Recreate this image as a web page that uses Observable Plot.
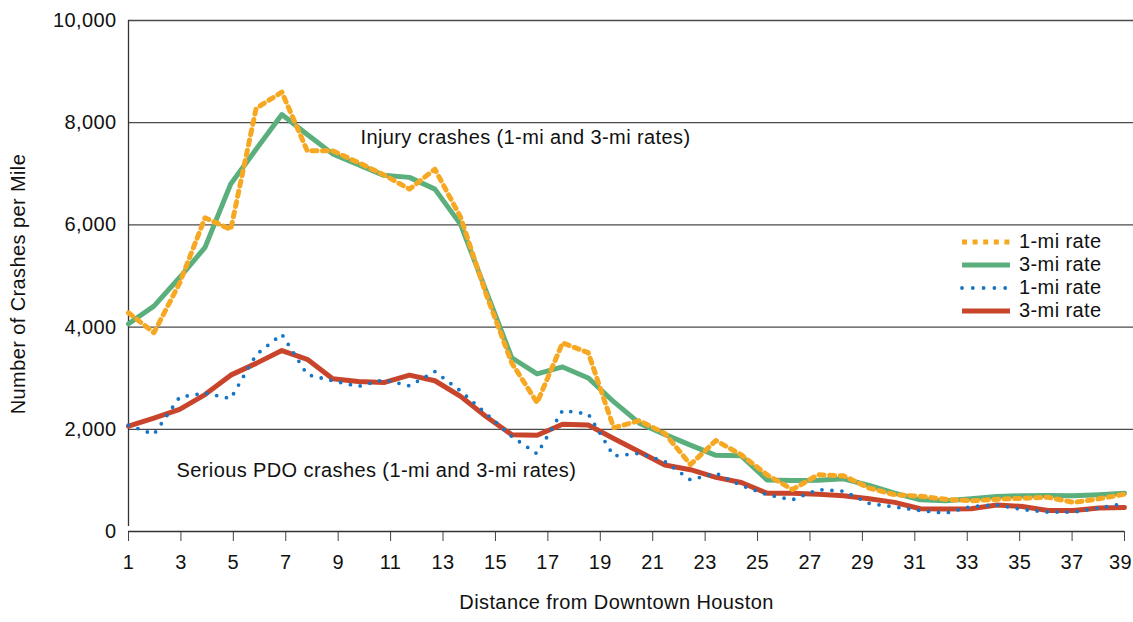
<!DOCTYPE html>
<html>
<head>
<meta charset="utf-8">
<script src="https://cdn.jsdelivr.net/npm/d3@7"></script>
<script src="https://cdn.jsdelivr.net/npm/@observablehq/plot@0.6"></script>
<style>
  html, body { margin: 0; padding: 0; background: #fff; }
  #chart { position: relative; width: 1133px; height: 622px; font-family: "Liberation Sans", Arial, Helvetica, sans-serif; }
  #chart svg text { letter-spacing: 0.4px; }
  #legend { position: absolute; left: 960px; top: 230px; font-size: 20px; letter-spacing: 0.4px; color: #111; }
  #legend .row { display: flex; align-items: center; height: 23px; }
  #legend svg { display: block; margin-right: 7px; }
</style>
</head>
<body>
<div id="chart"></div>
<script>
// Distance positions of the 40 plotted points (axis labelled 1..39)
const distance = [1, 1.97, 2.95, 3.92, 4.9, 5.87, 6.85, 7.82, 8.79, 9.77, 10.74, 11.72, 12.69, 13.67, 14.64, 15.62, 16.59, 17.56, 18.54, 19.51, 20.49, 21.46, 22.44, 23.41, 24.38, 25.36, 26.33, 27.31, 28.28, 29.26, 30.23, 31.21, 32.18, 33.15, 34.13, 35.1, 36.08, 37.05, 38.03, 39];

// Injury crashes per mile
const injury1mi = [4280, 3890, 4860, 6140, 5910, 8280, 8600, 7450, 7450, 7220, 6980, 6700, 7090, 6150, 4650, 3300, 2520, 3690, 3500, 2030, 2170, 1920, 1310, 1780, 1500, 1110, 820, 1110, 1090, 850, 720, 690, 630, 600, 630, 650, 670, 570, 640, 730];
const injury3mi = [4065, 4410, 4970, 5560, 6800, 7480, 8160, 7770, 7390, 7180, 6970, 6930, 6700, 6010, 4710, 3400, 3085, 3220, 3005, 2540, 2120, 1900, 1690, 1490, 1480, 1010, 1000, 1005, 1030, 900, 750, 620, 600, 640, 685, 700, 705, 700, 720, 750];

// Serious PDO crashes per mile
const pdo1mi = [2080, 1900, 2630, 2710, 2600, 3460, 3860, 3070, 2950, 2840, 2970, 2850, 3130, 2750, 2310, 1860, 1520, 2370, 2300, 1480, 1530, 1370, 1010, 1140, 900, 720, 620, 820, 790, 550, 480, 410, 360, 490, 520, 430, 380, 380, 460, 550];
const pdo3mi = [2060, 2220, 2390, 2680, 3060, 3290, 3540, 3370, 2990, 2935, 2915, 3060, 2950, 2645, 2250, 1895, 1885, 2100, 2085, 1820, 1560, 1300, 1210, 1060, 960, 750, 750, 730, 700, 640, 570, 445, 440, 445, 520, 490, 410, 410, 460, 470];

const xTicks = [1, 3, 5, 7, 9, 11, 13, 15, 17, 19, 21, 23, 25, 27, 29, 31, 33, 35, 37, 39];
const yTicks = [0, 2000, 4000, 6000, 8000, 10000];
const gridValues = [2000, 4000, 6000, 8000, 10000];

const legendItems = [
  {label: "1-mi rate", color: "#F7A823", dash: "5,5.6", width: 5, cap: "butt"},
  {label: "3-mi rate", color: "#5BAF7D", dash: null, width: 5, cap: "butt"},
  {label: "1-mi rate", color: "#1675C5", dash: "0,10.8", width: 3.8, cap: "round"},
  {label: "3-mi rate", color: "#C8452C", dash: null, width: 5, cap: "butt"}
];

const FONT = "'Liberation Sans', Arial, Helvetica, sans-serif";
const FS = 20;
const X = (d, i) => distance[i];
const Y = d => d;
const lastTick = xTicks[xTicks.length - 1];

const chart = Plot.plot({
  width: 1133,
  height: 622,
  marginLeft: 128,
  marginRight: 9,
  marginTop: 20,
  marginBottom: 91,
  x: {domain: [1, 39]},
  y: {domain: [0, 10000]},
  style: {fontFamily: FONT, fontSize: FS + "px", color: "#111", background: "#fff", overflow: "visible"},
  marks: [
    Plot.ruleY(gridValues, {stroke: "#4a4a4a", strokeWidth: 1.3, insetRight: -9}),
    Plot.axisY({ticks: yTicks, tickSize: 0, tickPadding: 12, tickFormat: d3.format(","), label: null}),
    Plot.axisX({ticks: xTicks, tickSize: 10, tickPadding: 13, tickFormat: d => d === lastTick ? "" : String(d), label: null, stroke: "#444"}),
    Plot.axisX({ticks: [lastTick], tickSize: 0, tickPadding: 23, dx: -4, tickFormat: d => String(d), label: null}),
    Plot.ruleY([0], {stroke: "#333", strokeWidth: 1.3}),
    Plot.ruleX([1], {y1: 0, y2: 10000, insetTop: -5, stroke: "#333", strokeWidth: 1.3}),
    Plot.line(injury3mi, {x: X, y: Y, stroke: "#5BAF7D", strokeWidth: 5}),
    Plot.line(pdo3mi, {x: X, y: Y, stroke: "#C8452C", strokeWidth: 5}),
    Plot.line(injury1mi, {x: X, y: Y, stroke: "#F7A823", strokeWidth: 5, strokeDasharray: "5,5.5"}),
    Plot.line(pdo1mi, {x: X, y: Y, stroke: "#1675C5", strokeWidth: 3.8, strokeDasharray: "0,10", strokeLinecap: "round"}),
    Plot.text(["Injury crashes (1-mi and 3-mi rates)"], {x: 9.85, y: 7716, text: d => d, textAnchor: "start", fontSize: FS, fill: "#111"}),
    Plot.text(["Serious PDO crashes (1-mi and 3-mi rates)"], {x: 2.83, y: 1195, text: d => d, textAnchor: "start", fontSize: FS, fill: "#111"}),
    Plot.text(["Distance from Downtown Houston"], {frameAnchor: "bottom", dy: 77, dx: -10, text: d => d, textAnchor: "middle", fontSize: FS, fill: "#111"}),
    Plot.text(["Number of Crashes per Mile"], {frameAnchor: "left", rotate: -90, dx: -110, dy: 8, text: d => d, textAnchor: "middle", fontSize: FS, fill: "#111"})
  ]
});

const container = document.getElementById("chart");
container.appendChild(chart);

const legend = document.createElement("div");
legend.id = "legend";
for (const item of legendItems) {
  const row = document.createElement("div");
  row.className = "row";
  const ns = "http://www.w3.org/2000/svg";
  const s = document.createElementNS(ns, "svg");
  s.setAttribute("width", "52");
  s.setAttribute("height", "10");
  const ln = document.createElementNS(ns, "line");
  ln.setAttribute("x1", "2");
  ln.setAttribute("x2", "50");
  ln.setAttribute("y1", "5");
  ln.setAttribute("y2", "5");
  ln.setAttribute("stroke", item.color);
  ln.setAttribute("stroke-width", item.width);
  ln.setAttribute("stroke-linecap", item.cap);
  if (item.dash) ln.setAttribute("stroke-dasharray", item.dash);
  s.appendChild(ln);
  const t = document.createElement("span");
  t.textContent = item.label;
  row.appendChild(s);
  row.appendChild(t);
  legend.appendChild(row);
}
container.appendChild(legend);
</script>
</body>
</html>
